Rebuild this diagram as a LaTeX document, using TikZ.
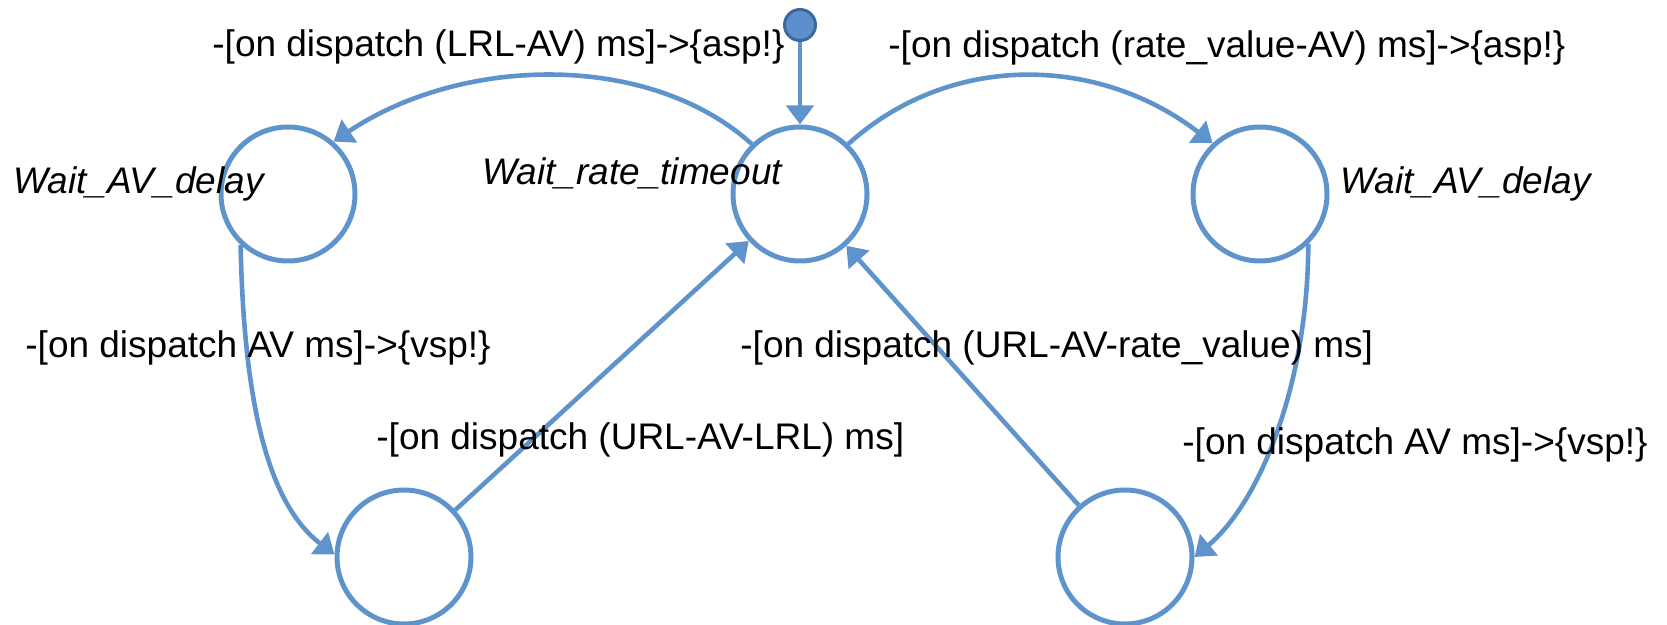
\documentclass[tikz,border=0pt]{standalone}
\usepackage{fontspec}
\setmainfont{Liberation Sans}
\usetikzlibrary{arrows.meta}
\definecolor{lineblue}{RGB}{94,148,203}
\definecolor{dotfill}{RGB}{92,143,204}
\definecolor{dotedge}{RGB}{62,104,156}
\begin{document}
\begin{tikzpicture}[x=0.5pt,y=-0.5pt,
  state/.style={circle, draw=lineblue, line width=2.5pt, minimum size=67pt, inner sep=0pt, fill=white},
  initdot/.style={circle, fill=dotfill, draw=dotedge, line width=1.5pt, minimum size=15.5pt, inner sep=0pt},
  conn/.style={draw=lineblue, line width=2.3pt, -{Triangle[length=9.5pt,width=13.5pt]}},
  lbl/.style={font=\fontsize{18.5}{22}\selectfont, inner sep=0pt, anchor=base west},
  slbl/.style={font=\fontsize{18.5}{22}\selectfont\itshape, inner sep=0pt, anchor=base west}]
\useasboundingbox (0,0) rectangle (1667,625);
% states
\node[state] (L) at (288,194) {};
\node[state] (C) at (800,194) {};
\node[state] (R) at (1260,194) {};
\node[state] (BL) at (404,557) {};
\node[state] (BR) at (1125,557) {};
\node[initdot] (init) at (800,25) {};
% connectors
\draw[conn] (init) -- (C);
\draw[conn] (C.134) .. controls (650,52) and (463,55) .. (L.49);
\draw[conn] (C.46) .. controls (950,52) and (1098,55) .. (R.133);
\draw[conn] (L.227) .. controls (244,410) and (270,505) .. (BL.178);
\draw[conn] (R.314) .. controls (1308,380) and (1262,500) .. (BR.0);
\draw[conn] (BL) -- (C);
\draw[conn] (BR) -- (C);
% labels
\node[lbl] (t1) at (212,57) {-[on dispatch (LRL-AV) ms]->\{asp!\}};
\node[lbl] (t2) at (888,58) {-[on dispatch (rate\_value-AV) ms]->\{asp!\}};
\node[lbl] (t3) at (25,358) {-[on dispatch AV ms]->\{vsp!\}};
\node[lbl] (t4) at (376,450) {-[on dispatch (URL-AV-LRL) ms]};
\node[lbl] (t5) at (740,358) {-[on dispatch (URL-AV-rate\_value) ms]};
\node[lbl] (t6) at (1182,455) {-[on dispatch AV ms]->\{vsp!\}};
\node[slbl] (s1) at (13,194) {Wait\_AV\_delay};
\node[slbl] (s2) at (482,185) {Wait\_rate\_timeout};
\node[slbl] (s3) at (1340,194) {Wait\_AV\_delay};
\end{tikzpicture}
\end{document}
